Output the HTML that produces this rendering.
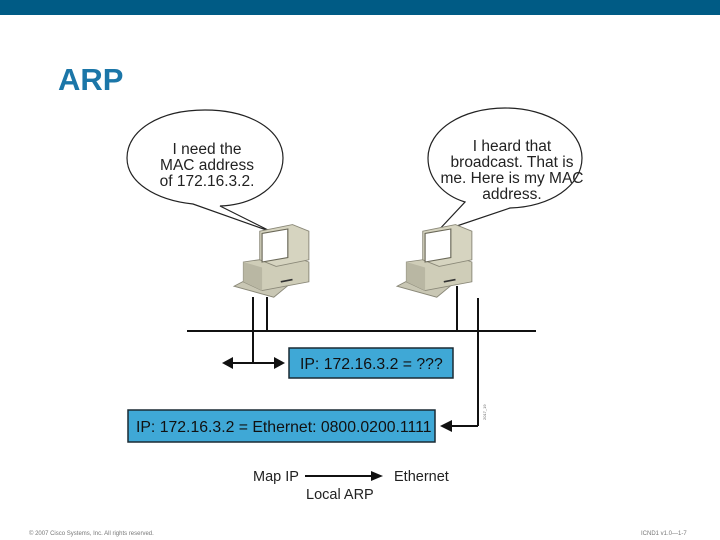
<!DOCTYPE html>
<html><head><style>
body{margin:0;width:720px;height:540px;background:#fff;position:relative;overflow:hidden;font-family:"Liberation Sans",sans-serif}
.t{position:absolute;white-space:nowrap}
</style></head><body>
<div style="position:absolute;left:0;top:0;width:720px;height:15px;background:#005b85"></div>
<div class="t" style="left:58px;top:62px;font-size:31px;font-weight:bold;color:#1b76a8">ARP</div>
<svg width="720" height="540" style="position:absolute;left:0;top:0" font-family="Liberation Sans, sans-serif">
<defs>
<g id="pc">
<polygon points="0,62 18,52 50,58 34,72" fill="#c9c7b4" stroke="#8a8878" stroke-width="0.8"/>
<polygon points="8,40 48,34 64,40 64,58 24,66 8,58" fill="#cfcdb8" stroke="#8a8878" stroke-width="0.8"/>
<polygon points="8,40 24,45 24,66 8,58" fill="#b9b7a3"/>
<polygon points="22,12 50,6 64,12 64,38 36,44 22,38" fill="#d6d4c0" stroke="#8a8878" stroke-width="0.8"/>
<polygon points="24,14 46,10 46,36 24,40" fill="#fff" stroke="#6a6858" stroke-width="1"/>
<line x1="40" y1="58" x2="50" y2="56" stroke="#333" stroke-width="1.5"/>
</g>
</defs>
<path d="M205,110 C250,110 283,130 283,158 C283,185 255,205 220,206 L272,232 L193,204 C155,200 127,182 127,158 C127,130 160,110 205,110 Z" fill="#fff" stroke="#222" stroke-width="1.2"/>
<path d="M505,108 C548,108 582,130 582,158 C582,186 550,207 510,208 L436,233 L465,202 C445,196 428,180 428,158 C428,130 462,108 505,108 Z" fill="#fff" stroke="#222" stroke-width="1.2"/>
<g font-size="15.5" fill="#222" text-anchor="middle">
<text x="207" y="154">I need the</text>
<text x="207" y="170">MAC address</text>
<text x="207" y="186">of 172.16.3.2.</text>
<text x="512" y="151">I heard that</text>
<text x="512" y="167">broadcast. That is</text>
<text x="512" y="183">me. Here is my MAC</text>
<text x="512" y="199">address.</text>
</g>
<g transform="translate(234,218) scale(1.17,1.1)"><use href="#pc"/></g>
<g transform="translate(397,218) scale(1.17,1.1)"><use href="#pc"/></g>
<g stroke="#111" stroke-width="2" fill="none">
<line x1="187" y1="331" x2="536" y2="331"/>
<line x1="253" y1="297" x2="253" y2="363"/>
<line x1="267" y1="297" x2="267" y2="331"/>
<line x1="457" y1="286" x2="457" y2="331"/>
<line x1="478" y1="298" x2="478" y2="426"/>
<line x1="232" y1="363" x2="275" y2="363"/>
<line x1="450" y1="426" x2="478" y2="426"/>
<line x1="305" y1="476" x2="372" y2="476"/>
</g>
<polygon points="222,363 233,357 233,369" fill="#111"/>
<polygon points="285,363 274,357 274,369" fill="#111"/>
<polygon points="440,426 452,420 452,432" fill="#111"/>
<polygon points="383,476 371,471 371,481" fill="#111"/>
<rect x="289" y="348" width="164" height="30" fill="#3fa8d6" stroke="#1a2a33" stroke-width="1.5"/>
<rect x="128" y="410" width="307" height="32" fill="#3fa8d6" stroke="#1a2a33" stroke-width="1.5"/>
<g font-size="15.8" fill="#111">
<text x="300" y="369">IP: 172.16.3.2 = ???</text>
<text x="136" y="432">IP: 172.16.3.2 = Ethernet: 0800.0200.1111</text>
</g>
<g font-size="14.5" fill="#222">
<text x="253" y="481">Map IP</text>
<text x="394" y="481">Ethernet</text>
<text x="306" y="499">Local ARP</text>
</g>
<text x="0" y="0" font-size="4" fill="#666" transform="translate(486,420) rotate(-90)">2017_19</text>
<text x="29" y="535" font-size="6" fill="#777">© 2007 Cisco Systems, Inc. All rights reserved.</text>
<text x="641" y="535" font-size="6" fill="#777">ICND1 v1.0—1-7</text>
</svg>
</body></html>
